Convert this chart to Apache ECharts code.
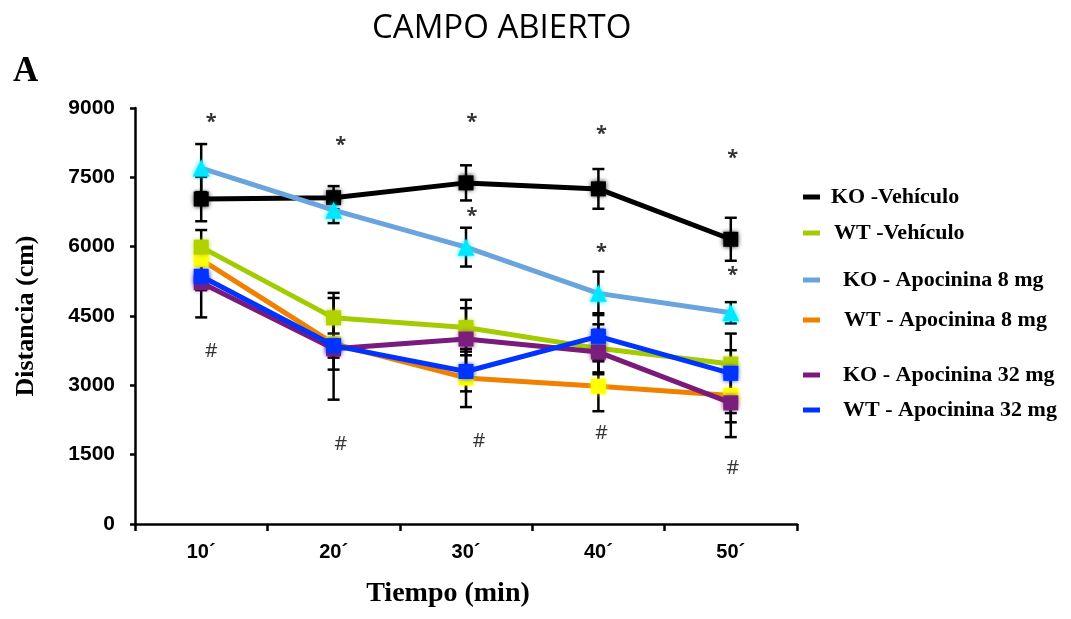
<!DOCTYPE html>
<html>
<head>
<meta charset="utf-8">
<script src="https://cdn.jsdelivr.net/npm/echarts@6/dist/echarts.min.js"></script>
<style>
  html, body { margin: 0; padding: 0; background: #fff; }
  #chart { width: 1071px; height: 619px; }
</style>
</head>
<body>
<div id="chart"></div>
<script>
// Open-field test: distance travelled per 10-minute block
const categories = ['10´', '20´', '30´', '40´', '50´'];
const yTicks = [0, 1500, 3000, 4500, 6000, 7500, 9000];

const koVehiculo   = [7030, 7060, 7380, 7250, 6160];
const wtVehiculo   = [5990, 4460, 4250, 3800, 3460];
const koApo8       = [7700, 6790, 5990, 4990, 4570];
const wtApo8       = [5720, 3900, 3160, 2980, 2780];
const koApo32      = [5220, 3790, 4000, 3720, 2620];
const wtApo32      = [5360, 3860, 3300, 4060, 3260];

// standard error of each mean
const errKoVehiculo = [480, 250, 380, 430, 465];
const errWtVehiculo = [370, 540, 600, 520, 300];
const errKoApo8     = [520, 280, 420, 470, 230];
const errWtApo8     = [300, 560, 630, 540, 580];
const errKoApo32    = [750, 1100, 670, 480, 740];
const errWtApo32    = [300, 260, 430, 500, 860];

// significance marks: [time index, height in cm]
const starMarks = [[0, 8700], [1, 8190], [2, 8700], [3, 8440], [4, 7920], [2, 6650], [3, 5870], [4, 5390]];
const hashMarks = [[0, 3740], [1, 1720], [2, 1790], [3, 1960], [4, 1200]];
const starShift = [10, 7, 6, 3, 2, 6, 3, 2];
const hashShift = [10, 7, 13, 3, 2];

const groups = [
  { name: 'KO -Vehículo',          data: koVehiculo, err: errKoVehiculo, line: '#000000', mark: '#000000', symbol: 'rect' },
  { name: 'WT -Vehículo',          data: wtVehiculo, err: errWtVehiculo, line: '#a2cc00', mark: '#b2d200', symbol: 'rect' },
  { name: 'KO - Apocinina 8 mg',   data: koApo8,     err: errKoApo8,     line: '#6aa4dc', mark: '#00e8ff', symbol: 'triangle' },
  { name: 'WT - Apocinina 8 mg',   data: wtApo8,     err: errWtApo8,     line: '#f08000', mark: '#ffff00', symbol: 'rect' },
  { name: 'KO - Apocinina 32 mg',  data: koApo32,    err: errKoApo32,    line: '#7a1a7a', mark: '#7a1f7c', symbol: 'rect' },
  { name: 'WT - Apocinina 32 mg',  data: wtApo32,    err: errWtApo32,    line: '#0033ff', mark: '#0033ff', symbol: 'rect' }
];

// draw order of the lines (later = on top)
const drawOrder = [3, 1, 4, 5, 0, 2];

const legendTops = [193, 229, 276, 316, 371, 406];
const legendTextGap = [11, 14, 23, 24, 23, 23];

const serif = '"Liberation Serif", "Times New Roman", serif';
const sans = '"Liberation Sans", Arial, sans-serif';

function errorBarSeries(g) {
  const rows = g.data.map((v, i) => [i, v - g.err[i], v + g.err[i]]);
  return {
    type: 'custom',
    name: g.name + ' err',
    z: 1,
    silent: true,
    data: rows,
    encode: { x: 0, y: [1, 2] },
    renderItem: function (params, api) {
      const x = api.value(0);
      const lo = api.coord([x, api.value(1)]);
      const hi = api.coord([x, api.value(2)]);
      const half = 6;
      const style = { stroke: '#000', lineWidth: 2.5, fill: null };
      return {
        type: 'group',
        children: [
          { type: 'line', shape: { x1: lo[0], y1: lo[1], x2: hi[0], y2: hi[1] }, style: style },
          { type: 'line', shape: { x1: hi[0] - half, y1: hi[1], x2: hi[0] + half, y2: hi[1] }, style: style },
          { type: 'line', shape: { x1: lo[0] - half, y1: lo[1], x2: lo[0] + half, y2: lo[1] }, style: style }
        ]
      };
    }
  };
}

const series = [];
groups.forEach(g => series.push(errorBarSeries(g)));
drawOrder.forEach((gi, k) => {
  const g = groups[gi];
  series.push({
    type: 'line',
    name: g.name,
    data: g.data,
    z: 3 + k,
    symbol: g.symbol,
    symbolSize: g.symbol === 'triangle' ? 17 : 15,
    showAllSymbol: true,
    lineStyle: { color: g.line, width: 5 },
    itemStyle: { color: g.mark, shadowBlur: 5, shadowColor: g.mark },
    emphasis: { disabled: true },
    animation: false
  });
});

function markSeries(name, marks, shifts, text, size, weight) {
  return {
    type: 'scatter',
    name: name,
    z: 20,
    silent: true,
    symbol: 'circle',
    symbolSize: 1,
    itemStyle: { color: 'rgba(0,0,0,0)' },
    data: marks.map((m, i) => ({
      value: m,
      label: {
        show: true,
        position: 'inside',
        formatter: text,
        offset: [shifts[i], 0],
        color: '#000',
        fontFamily: '"Open Sans", sans-serif',
        fontWeight: weight,
        fontSize: size
      }
    }))
  };
}
series.push(markSeries('sig-star', starMarks, starShift, '*', 20, 'bold'));
series.push(markSeries('sig-hash', hashMarks, hashShift, '#', 20, 'normal'));

const legends = groups.map((g, i) => ({
  left: 798,
  top: legendTops[i] - 12,
  orient: 'vertical',
  icon: 'rect',
  itemWidth: 17,
  itemHeight: 5,
  selectedMode: false,
  data: [{ name: g.name, itemStyle: { color: g.line } }],
  textStyle: {
    fontFamily: serif,
    fontWeight: 'bold',
    fontSize: 22,
    color: '#000',
    padding: [0, 0, 0, legendTextGap[i] - 5]
  }
}));

const chart = echarts.init(document.getElementById('chart'), null, { renderer: 'canvas' });
chart.setOption({
  animation: false,
  backgroundColor: '#fff',
  title: [
    {
      text: 'CAMPO ABIERTO',
      left: 367,
      top: 7,
      textStyle: { fontFamily: '"Open Sans", sans-serif', fontWeight: 'normal', fontSize: 33, color: '#000' }
    },
    {
      text: 'A',
      left: 8,
      top: 49,
      textStyle: { fontFamily: serif, fontWeight: 'bold', fontSize: 35, color: '#000' }
    }
  ],
  legend: legends,
  grid: { left: 135, right: 274, top: 108, bottom: 95 },
  xAxis: {
    type: 'category',
    data: categories,
    boundaryGap: true,
    name: 'Tiempo (min)',
    nameLocation: 'middle',
    nameGap: 56,
    nameTextStyle: { fontFamily: serif, fontWeight: 'bold', fontSize: 28, color: '#000', padding: [0, 36, 0, 0] },
    axisLine: { lineStyle: { color: '#000', width: 2.5 } },
    axisTick: { show: true, length: 7, lineStyle: { color: '#000', width: 2.5 } },
    axisLabel: { margin: 18, fontFamily: sans, fontWeight: 'bold', fontSize: 20, color: '#000' },
    splitLine: { show: false }
  },
  yAxis: {
    type: 'value',
    min: yTicks[0],
    max: yTicks[yTicks.length - 1],
    interval: yTicks[1] - yTicks[0],
    name: 'Distancia (cm)',
    nameLocation: 'middle',
    nameGap: 96,
    nameRotate: 90,
    nameTextStyle: { fontFamily: serif, fontWeight: 'bold', fontSize: 26, color: '#000' },
    axisLine: { show: true, lineStyle: { color: '#000', width: 2.5 } },
    axisTick: { show: true, length: 5, lineStyle: { color: '#000', width: 2.5 } },
    axisLabel: { margin: 20, fontFamily: sans, fontWeight: 'bold', fontSize: 21, color: '#000', formatter: v => String(v) },
    splitLine: { show: false }
  },
  series: series
});
</script>
</body>
</html>
